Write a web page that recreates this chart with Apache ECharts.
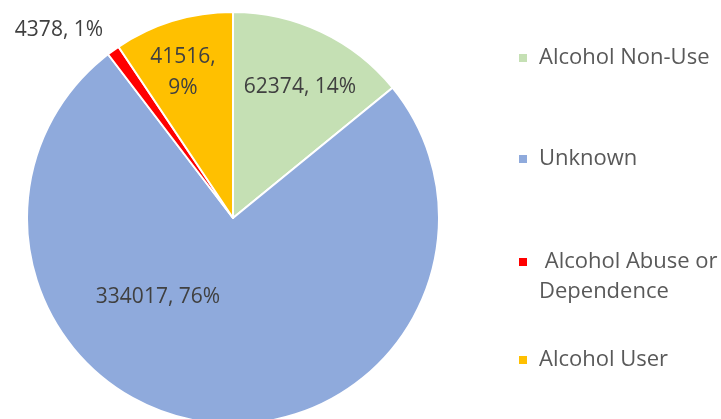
<!DOCTYPE html>
<html>
<head>
<meta charset="utf-8">
<script src="https://cdn.jsdelivr.net/npm/echarts@6/dist/echarts.min.js"></script>
<style>
  html, body { margin: 0; padding: 0; background: #fff; }
  #chart { width: 721px; height: 419px; }
</style>
</head>
<body>
<div id="chart"></div>
<script>
  const categories = ['Alcohol Non-Use', 'Unknown', ' Alcohol Abuse or\nDependence', 'Alcohol User'];
  const values = [62374, 334017, 4378, 41516];
  const percents = ['14%', '76%', '1%', '9%'];
  const colors = ['#C5E0B4', '#8FAADC', '#FF0000', '#FFC000'];

  // label spots (px) as Excel placed them
  const labelSpots = [[300, 87], [158, 297], [59, 30], [183, 73]];
  const legendTops = [38, 139, 212, 340];

  const chart = echarts.init(document.getElementById('chart'));
  const font = 'Open Sans, sans-serif';

  const legends = categories.map((name, i) => ({
    data: [name],
    left: 512,
    top: legendTops[i],
    itemWidth: 10,
    itemHeight: 10,
    icon: 'rect',
    selectedMode: false,
    // empty first line keeps the marker level with the first text line
    formatter: n => (n.indexOf('\n') >= 0 ? '\n' + n : n),
    textStyle: {
      fontFamily: font,
      fontSize: 22,
      color: '#595959',
      lineHeight: 30,
      padding: [0, 0, 0, 6]
    }
  }));

  const option = {
    color: colors,
    animation: false,
    legend: legends,
    series: [{
      type: 'pie',
      center: [233, 218],
      radius: 206,
      startAngle: 90,
      clockwise: true,
      itemStyle: { borderColor: '#fff', borderWidth: 2 },
      label: {
        show: true,
        position: 'inside',
        fontFamily: font,
        fontSize: 21,
        color: '#404040',
        lineHeight: 31,
        formatter: p => p.dataIndex === 3
          ? p.value + ',\n' + percents[p.dataIndex]
          : p.value + ', ' + percents[p.dataIndex]
      },
      labelLine: { show: false },
      labelLayout: p => ({ x: labelSpots[p.dataIndex][0], y: labelSpots[p.dataIndex][1], align: 'center', verticalAlign: 'middle' }),
      data: categories.map((n, i) => ({ name: n, value: values[i] }))
    }]
  };
  chart.setOption(option);
</script>
</body>
</html>
